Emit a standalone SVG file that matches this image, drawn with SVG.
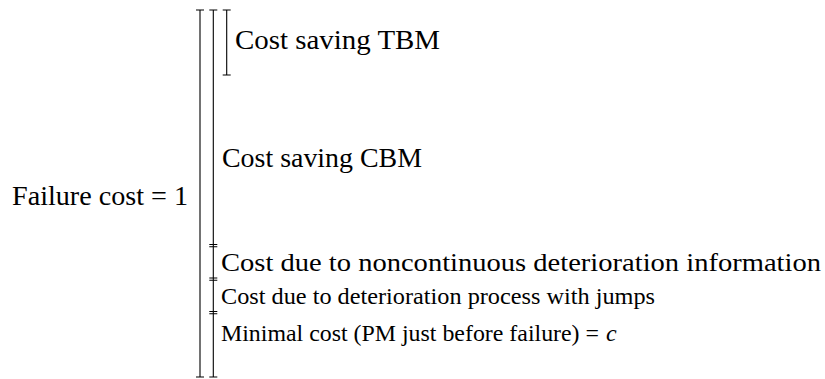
<svg xmlns="http://www.w3.org/2000/svg" width="825" height="379" viewBox="0 0 825 379">
<style>
.bar{stroke:#000;stroke-width:1.1;fill:none}
.t{font-family:"Liberation Serif","Times New Roman",serif;font-size:26.5px;fill:#000}
.s{font-size:25.5px}
.m{font-size:24px}
</style>
<rect width="825" height="379" fill="#fff"/>
<g id="connectors">
<g id="bar-failure">
<path class="bar" d="M200,10V377M196,10H204M196,377H204"/>
</g>
<g id="bar-cost-chain">
<path class="bar" d="M213.3,10V377"/>
<path class="bar" d="M209.3,10H217.3M209.3,244.5H217.3M209.3,246.8H217.3M209.3,278H217.3M209.3,280.3H217.3M209.3,311.5H217.3M209.3,313.8H217.3M209.3,377H217.3"/>
</g>
<g id="bar-tbm">
<path class="bar" d="M226.7,10V75M222.7,10H230.7M222.7,75H230.7"/>
</g>
</g>
<g id="failure-cost"><text class="t" x="12" y="205" textLength="176" lengthAdjust="spacingAndGlyphs">Failure cost = 1</text></g>
<g id="cost-saving-tbm"><text class="t" x="235" y="49" textLength="205" lengthAdjust="spacingAndGlyphs">Cost saving TBM</text></g>
<g id="cost-saving-cbm"><text class="t" x="222" y="166.5" textLength="200" lengthAdjust="spacingAndGlyphs">Cost saving CBM</text></g>
<g id="cost-noncontinuous"><text class="t s" x="221" y="271" textLength="600" lengthAdjust="spacingAndGlyphs">Cost due to noncontinuous deterioration information</text></g>
<g id="cost-jumps"><text class="t m" x="221" y="304" textLength="434" lengthAdjust="spacingAndGlyphs">Cost due to deterioration process with jumps</text></g>
<g id="minimal-cost"><text class="t m" x="221" y="341" textLength="378" lengthAdjust="spacingAndGlyphs">Minimal cost (PM just before failure) =</text><text class="t m" x="606" y="341" font-style="italic">c</text></g>
</svg>
